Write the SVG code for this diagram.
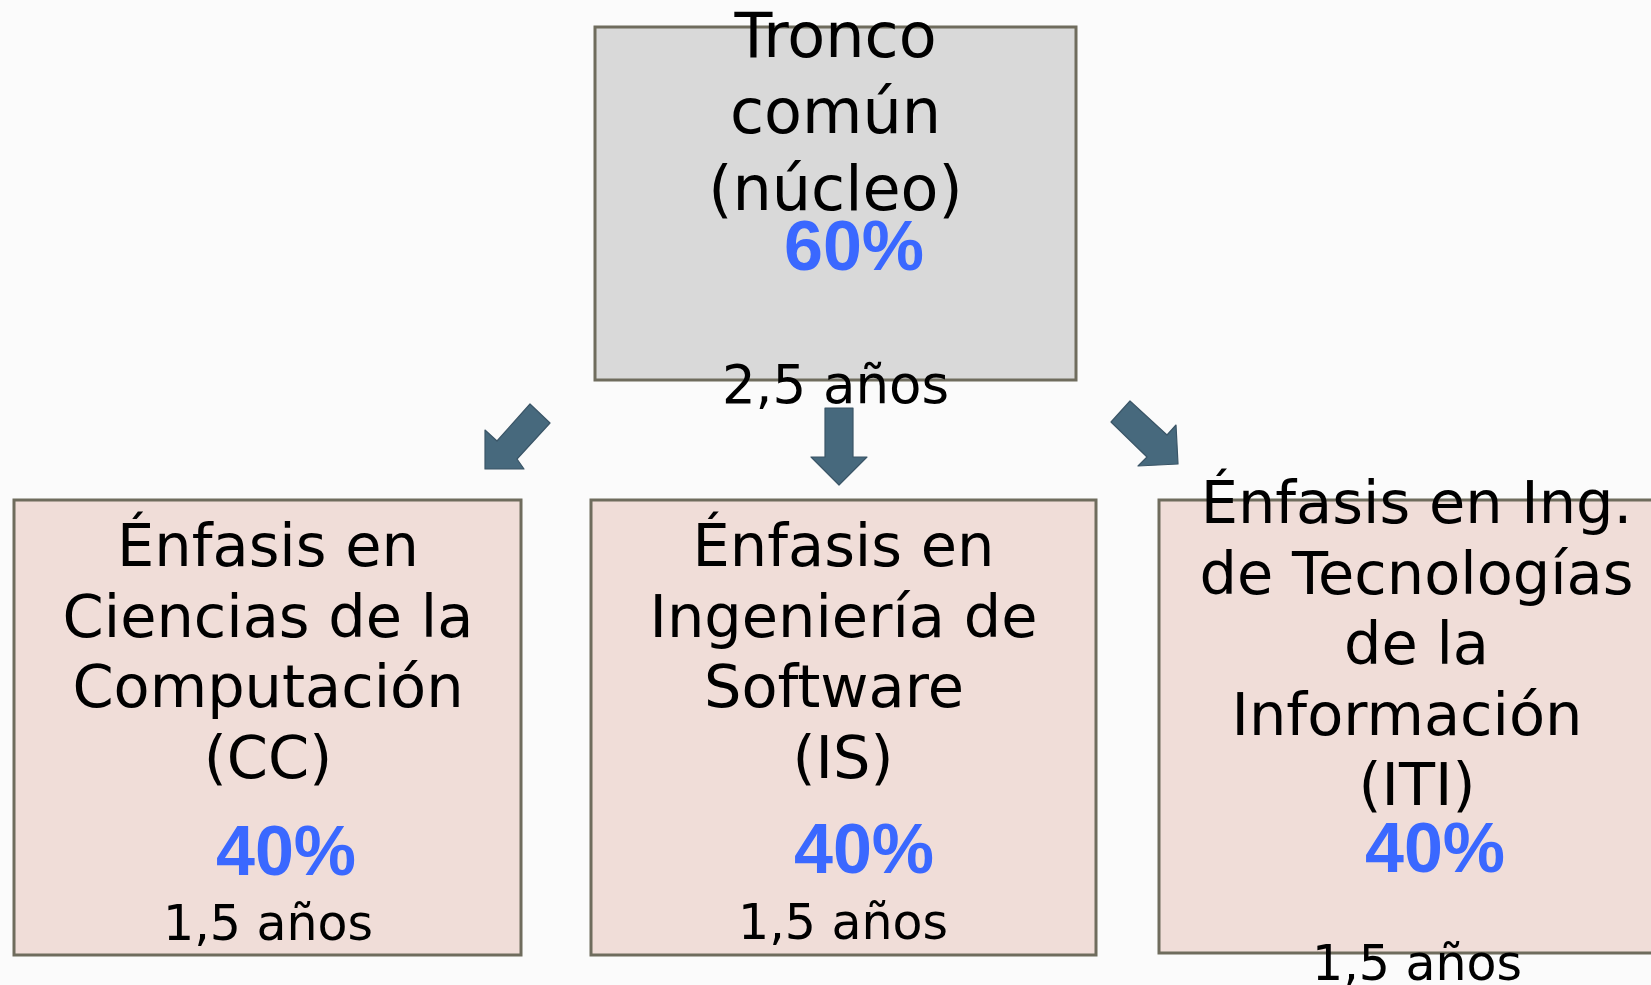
<svg xmlns="http://www.w3.org/2000/svg" width="1651" height="985" viewBox="0 0 1651 985">
<style>
.box-top{fill:#d9d9d9;stroke:#6f6c5d;stroke-width:3}
.box{fill:#f0ddd8;stroke:#6f6c5d;stroke-width:3}
.t{font-family:"DejaVu Sans","Noto Sans",sans-serif;fill:#000;text-anchor:middle}
.big{font-size:62px}
.mid{font-size:59px}
.yr{font-size:49px}
.pct{font-family:"Liberation Sans",Arial,sans-serif;font-weight:bold;font-size:70px;fill:#3a68ff}
.arrow{fill:#47697d;stroke:#3a5567;stroke-width:1.2;stroke-linejoin:round}
</style>
<rect x="0" y="0" width="1651" height="985" fill="#fbfbfb"/>
<g id="connectors">
<polygon class="arrow" points="485,469 485,430 497,441 530,404 550,423 517,459 524,469"/>
<polygon class="arrow" points="825,408 853,408 853,457 867,457 839,485 811,457 825,457"/>
<polygon class="arrow" points="1130,401 1111,422 1147,457 1138,466 1178,464 1176,425 1167,435"/>
</g>
<g id="node-tronco">
<rect class="box-top" x="595" y="27" width="481" height="353"/>
<text class="t big" x="835.5" y="57">Tronco</text>
<text class="t big" x="835.5" y="133">común</text>
<text class="t big" x="835.5" y="210">(núcleo)</text>
<text class="pct" x="784" y="270">60%</text>
<text class="t" style="font-size:53px" x="835.5" y="403">2,5 años</text>
</g>
<g id="node-cc">
<rect class="box" x="14" y="500" width="507" height="455"/>
<text class="t mid" x="268" y="566">Énfasis en</text>
<text class="t mid" x="268" y="636.5">Ciencias de la</text>
<text class="t mid" x="268" y="707">Computación</text>
<text class="t mid" x="268" y="777.5">(CC)</text>
<text class="pct" x="216" y="875">40%</text>
<text class="t yr" x="268" y="940">1,5 años</text>
</g>
<g id="node-is">
<rect class="box" x="591" y="500" width="505" height="455"/>
<text class="t mid" x="843.5" y="566">Énfasis en</text>
<text class="t mid" x="843.5" y="636.5">Ingeniería de</text>
<text class="t mid" x="834" y="707">Software</text>
<text class="t mid" x="843" y="777.5">(IS)</text>
<text class="pct" x="794" y="873">40%</text>
<text class="t yr" x="843" y="939">1,5 años</text>
</g>
<g id="node-iti">
<rect class="box" x="1159" y="500" width="515" height="453"/>
<text class="t mid" x="1416.5" y="523">Énfasis en Ing.</text>
<text class="t mid" x="1416.5" y="594">de Tecnologías</text>
<text class="t mid" x="1416.5" y="664">de la</text>
<text class="t mid" x="1407" y="735">Información</text>
<text class="t mid" x="1417" y="805">(ITI)</text>
<text class="pct" x="1365" y="872">40%</text>
<text class="t yr" x="1417" y="980">1,5 años</text>
</g>
</svg>
